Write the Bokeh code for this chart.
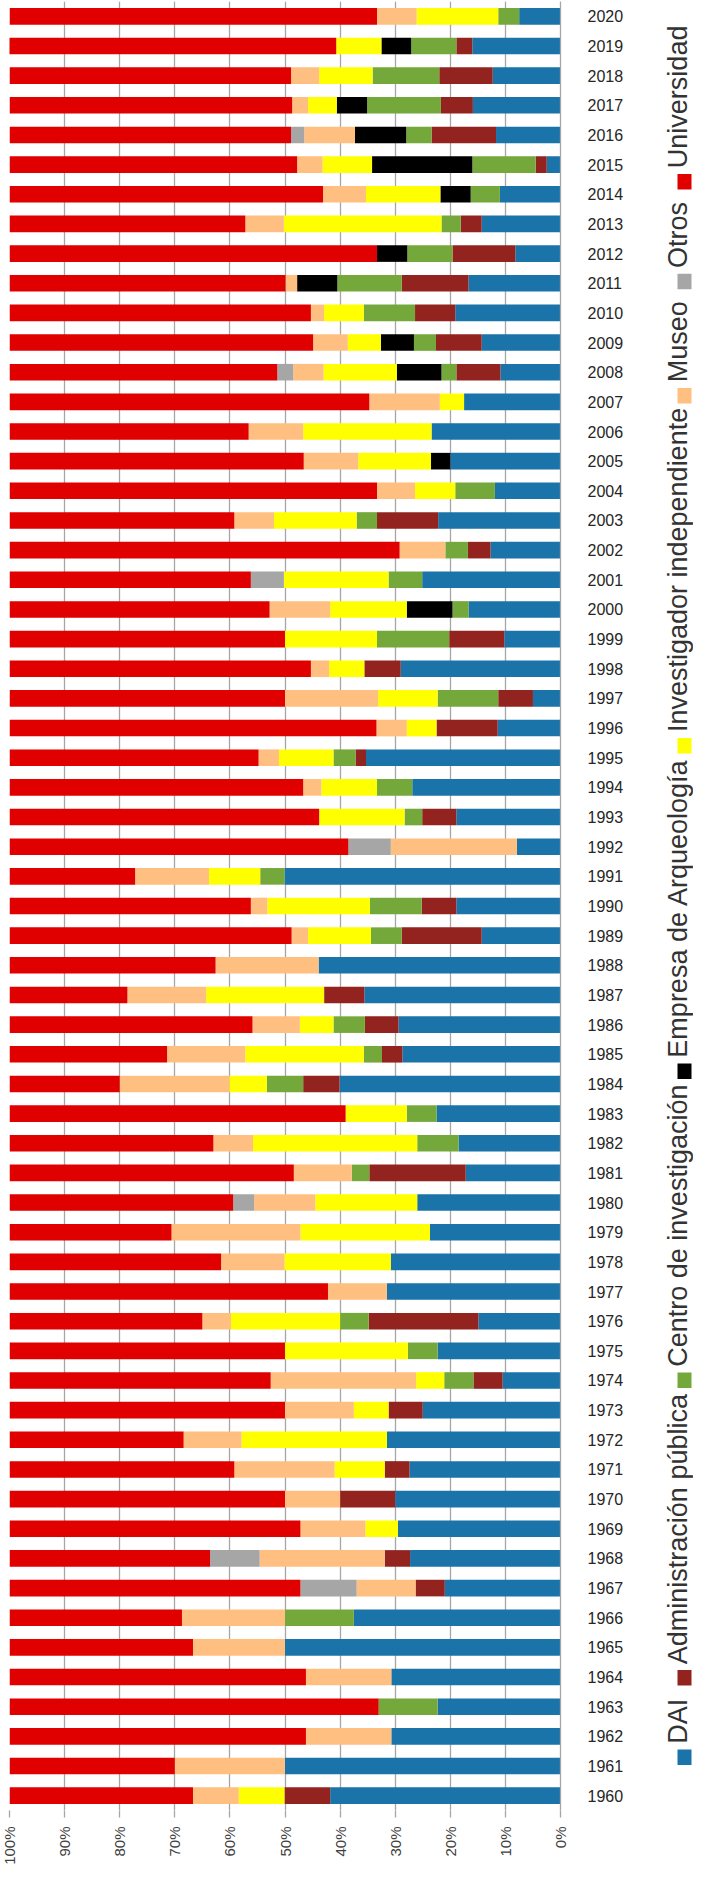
from math import pi
from bokeh.plotting import figure
from bokeh.models import ColumnDataSource, Range1d, FactorRange, FixedTicker, PrintfTickFormatter
from bokeh.layouts import row
from bokeh.core.properties import value
from bokeh.embed import file_html
from bokeh.resources import INLINE

# ---------------- data (years 2020 -> 1960) ----------------
years = [str(y) for y in range(2020, 1959, -1)]

universidad = [66.7, 59.4, 51.1, 51.3, 51.1, 52.2, 56.9, 42.8, 66.7, 50.1,
               54.7, 55.1, 48.6, 65.3, 43.4, 53.4, 66.7, 40.8, 70.8, 43.8,
               47.2, 50.0, 54.7, 50.0, 66.6, 45.2, 53.3, 56.2, 61.5, 22.8,
               43.8, 51.2, 37.4, 21.4, 44.1, 28.6, 20.0, 61.0, 37.0, 51.6,
               40.6, 29.4, 38.4, 57.8, 35.0, 50.0, 47.4, 50.0, 31.6, 40.8,
               50.0, 52.8, 36.4, 52.8, 31.3, 33.3, 53.8, 67.0, 53.8, 30.0,
               33.3]
otros = [0, 0, 0, 0, 2.4, 0, 0, 0, 0, 0,
         0, 0, 2.9, 0, 0, 0, 0, 0, 0, 6.0,
         0, 0, 0, 0, 0, 0, 0, 0, 7.7, 0,
         0, 0, 0, 0, 0, 0, 0, 0, 0, 0,
         3.8, 0, 0, 0, 0, 0, 0, 0, 0, 0,
         0, 0, 9.0, 10.2, 0, 0, 0, 0, 0, 0,
         0]
museo = [7.2, 0, 5.1, 2.9, 9.2, 4.6, 7.8, 7.0, 0, 2.1,
         2.4, 6.3, 5.5, 12.8, 9.9, 9.9, 6.9, 7.2, 8.3, 0,
         11.0, 0, 3.3, 16.9, 5.5, 3.7, 3.3, 0, 22.9, 13.4,
         3.0, 3.0, 18.7, 14.3, 8.6, 14.2, 19.9, 0, 7.2, 10.5,
         11.1, 23.4, 11.5, 10.7, 5.2, 0, 26.4, 12.5, 10.5, 18.2,
         10.0, 11.8, 22.7, 10.7, 18.7, 16.7, 15.5, 0, 15.5, 20.0,
         8.3]
investigador = [14.8, 8.2, 9.7, 5.2, 0, 9.0, 13.5, 28.6, 0, 0,
                7.2, 6.0, 13.3, 4.4, 23.3, 13.2, 7.3, 15.0, 0, 19.0,
                13.9, 16.7, 6.4, 10.8, 5.4, 9.9, 10.1, 15.5, 0, 9.3,
                18.6, 11.4, 0, 21.4, 6.1, 21.5, 6.8, 11.1, 29.8, 0,
                18.5, 23.5, 19.3, 0, 19.8, 22.3, 5.1, 6.3, 26.4, 9.1,
                0, 5.9, 0, 0, 0, 0, 0, 0, 0, 0,
                8.3]
empresa = [0, 5.4, 0, 5.5, 9.3, 18.2, 5.5, 0, 5.5, 7.3,
           0, 6.0, 8.1, 0, 0, 3.5, 0, 0, 0, 0,
           8.3, 0, 0, 0, 0, 0, 0, 0, 0, 0,
           0, 0, 0, 0, 0, 0, 0, 0, 0, 0,
           0, 0, 0, 0, 0, 0, 0, 0, 0, 0,
           0, 0, 0, 0, 0, 0, 0, 0, 0, 0,
           0]
centro = [3.8, 8.2, 12.1, 13.4, 4.6, 11.5, 5.3, 3.5, 8.2, 11.7,
          9.3, 4.0, 2.7, 0, 0, 0, 7.2, 3.7, 4.1, 6.1,
          2.9, 13.1, 0, 11.0, 0, 4.0, 6.4, 3.2, 0, 4.4,
          9.4, 5.6, 0, 0, 5.7, 3.3, 6.6, 5.4, 7.5, 3.2,
          0, 0, 0, 0, 5.2, 5.4, 5.3, 0, 0, 0,
          0, 0, 0, 0, 12.5, 0, 0, 10.7, 0, 0,
          0]
administracion = [0, 2.9, 9.7, 5.8, 11.7, 2.0, 0, 3.8, 11.4, 12.1,
                  7.3, 8.3, 8.0, 0, 0, 0, 0, 11.1, 4.1, 0,
                  0, 10.0, 6.6, 6.3, 11.1, 1.9, 0, 6.2, 0, 0,
                  6.3, 14.5, 0, 7.3, 6.1, 3.7, 6.6, 0, 0, 17.5,
                  0, 0, 0, 0, 19.9, 0, 5.3, 6.2, 0, 4.5,
                  10.0, 0, 4.6, 5.3, 0, 0, 0, 0, 0, 0,
                  8.3]
dai = [7.5, 16.0, 12.3, 15.9, 11.7, 2.5, 11.0, 14.3, 8.2, 16.7,
       19.1, 14.3, 10.9, 17.5, 23.4, 20.0, 11.9, 22.2, 12.7, 25.1,
       16.7, 10.2, 29.0, 5.0, 11.4, 35.3, 26.9, 18.9, 7.9, 50.1,
       18.9, 14.3, 43.9, 35.6, 29.4, 28.7, 40.1, 22.5, 18.5, 17.2,
       26.0, 23.7, 30.8, 31.5, 14.9, 22.3, 10.5, 25.0, 31.5, 27.4,
       30.0, 29.5, 27.3, 21.0, 37.5, 50.0, 30.7, 22.3, 30.7, 50.0,
       41.8]

series_keys = ["dai", "admin", "centro", "empresa", "inv", "museo", "otros", "univ"]
series_labels = ["DAI", "Administración pública", "Centro de investigación",
                 "Empresa de Arqueología", "Investigador independiente",
                 "Museo", "Otros", "Universidad"]
series_colors = ["#1a73a9", "#93231f", "#75a83b", "#000000", "#ffff00",
                 "#ffbf80", "#a6a6a6", "#e00000"]
tick_values = list(range(0, 101, 10))

source = ColumnDataSource(dict(
    year=years, dai=dai, admin=administracion, centro=centro, empresa=empresa,
    inv=investigador, museo=museo, otros=otros, univ=universidad))

# ---------------- main chart ----------------
p = figure(width=626, height=1867,
           x_range=Range1d(100, 0),
           y_range=FactorRange(factors=years[::-1]),
           y_axis_location="right",
           toolbar_location=None, output_backend="svg",
           min_border_left=9, min_border_right=63,
           min_border_top=1, min_border_bottom=54)
p.outline_line_color = None
p.background_fill_color = "white"

p.hbar_stack(series_keys, y="year", height=0.56, color=series_colors,
             line_color=None, source=source)

p.ygrid.grid_line_color = None
p.xgrid.grid_line_color = "#a6a6a6"
p.xgrid.grid_line_width = 1.3
p.xgrid.ticker = FixedTicker(ticks=tick_values)

xa = p.xaxis[0]
xa.ticker = FixedTicker(ticks=tick_values)
xa.formatter = PrintfTickFormatter(format="%d%%")
xa.major_label_orientation = pi / 2
xa.axis_line_color = None
xa.major_tick_out = 7
xa.major_tick_in = 0
xa.major_tick_line_color = "#a6a6a6"
xa.major_tick_line_width = 1.3
xa.minor_tick_line_color = None
xa.major_label_standoff = 9
xa.major_label_text_font = "Liberation Sans"
xa.major_label_text_font_size = "15px"
xa.major_label_text_color = "#404040"

ya = p.yaxis[0]
ya.axis_line_color = "#a6a6a6"
ya.axis_line_width = 1.3
ya.major_tick_line_color = None
ya.minor_tick_line_color = None
ya.major_label_standoff = 21
ya.major_label_text_font = "Liberation Sans"
ya.major_label_text_font_size = "16px"
ya.major_label_text_color = "#262626"

# ---------------- legend column (pixel-matched figure) ----------------
leg = figure(width=67, height=1867, x_range=Range1d(634, 701),
             y_range=Range1d(1875, 8), toolbar_location=None,
             output_backend="svg", min_border=0)
leg.outline_line_color = None
leg.axis.visible = False
leg.grid.visible = False

marker_y = [1820, 1738, 1431, 1112, 776, 415, 297, 194]
text_y = [m - 14 for m in marker_y]
leg.rect(x=[692] * 8, y=marker_y, width=14, height=16,
         color=series_colors, line_color=None)
leg.text(x=[685] * 8, y=text_y, text=series_labels, angle=pi / 2,
         text_align="left", text_baseline="middle",
         text_font=value("Liberation Sans"), text_font_size="27px",
         text_color="#333333")

layout = row(p, leg)
open("out.html", "w").write(file_html(layout, INLINE))
